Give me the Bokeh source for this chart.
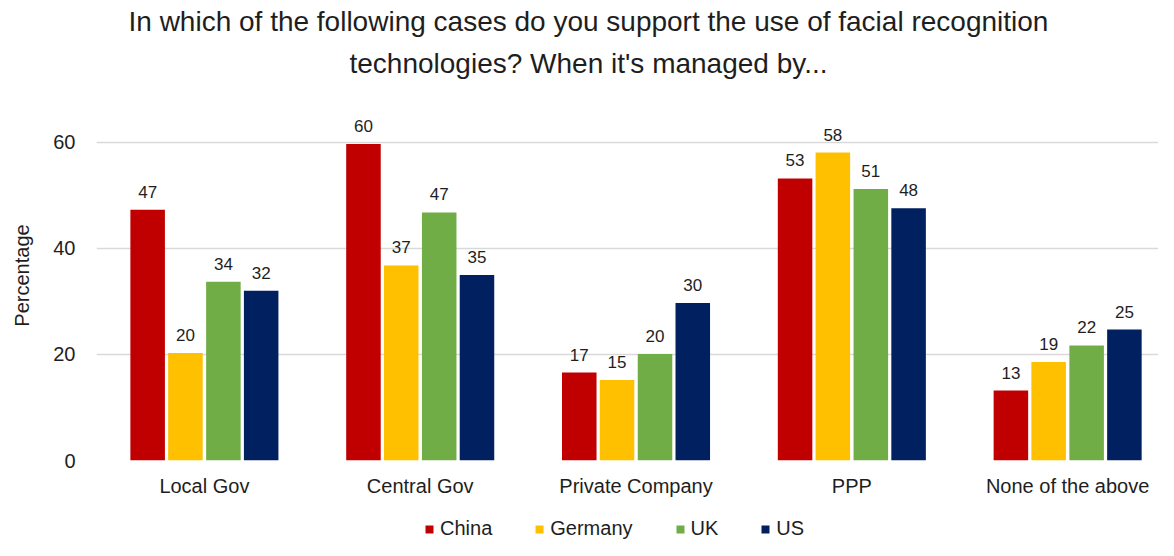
from bokeh.plotting import figure
from bokeh.models import (ColumnDataSource, Range1d, LabelSet, Legend,
                          LegendItem, Title, FixedTicker)
from bokeh.layouts import column
from bokeh.core.properties import value
from bokeh.embed import file_html
from bokeh.resources import INLINE

categories = ["Local Gov", "Central Gov", "Private Company", "PPP", "None of the above"]
series = ["China", "Germany", "UK", "US"]
china = [47.3, 59.7, 16.6, 53.2, 13.2]
germany = [20.3, 36.8, 15.2, 58.1, 18.6]
uk = [33.7, 46.8, 20.1, 51.2, 21.7]
us = [32.0, 35.0, 29.7, 47.6, 24.7]
colors = ["#C00000", "#FFC000", "#70AD47", "#002060"]
y_ticks = [0, 20, 40, 60]
title_lines = ["In which of the following cases do you support the use of facial recognition",
               "technologies? When it's managed by..."]

FONT = "Liberation Sans"
TXT = "#1e1e1e"

values = {"China": china, "Germany": germany, "UK": uk, "US": us}
offsets = [-0.263, -0.088, 0.088, 0.263]
centers = [i + 0.5 for i in range(len(categories))]

data = {}
for s, off in zip(series, offsets):
    data[s] = values[s]
    data[s + "_x"] = [c + off for c in centers]
    data[s + "_lbl"] = [str(int(round(v))) for v in values[s]]
source = ColumnDataSource(data)

p = figure(x_range=Range1d(0, 4.921), y_range=Range1d(0, 69.8),
           width=1158, height=500, output_backend="svg", toolbar_location=None,
           min_border_left=96, min_border_right=0, min_border_top=90, min_border_bottom=40)

p.add_layout(Title(text=title_lines[1], align="left", vertical_align="middle",
                   text_font=FONT, text_font_size="28px",
                   text_font_style="normal", text_color=TXT, offset=253, standoff=21), "above")
p.add_layout(Title(text=title_lines[0], align="left", text_font=FONT, text_font_size="28px",
                   text_font_style="normal", text_color=TXT, offset=32, standoff=0), "above")

for s, c in zip(series, colors):
    p.vbar(x=s + "_x", top=s, width=0.16, source=source, color=c, line_color=None)
    lbl = LabelSet(x=s + "_x", y=s, text=s + "_lbl", source=source,
                   text_align="center", text_baseline="bottom", y_offset=12,
                   text_font=value(FONT), text_font_size=value("17px"), text_color=TXT)
    p.add_layout(lbl)

p.outline_line_color = None
p.xgrid.grid_line_color = None
p.ygrid.grid_line_color = "#d9d9d9"
p.ygrid.grid_line_width = 1.5
p.yaxis.ticker = FixedTicker(ticks=y_ticks)
p.xaxis.ticker = FixedTicker(ticks=centers)
p.xaxis.major_label_overrides = {c: n for c, n in zip(centers, categories)}
p.yaxis.axis_line_color = None
p.xaxis.axis_line_color = None
p.yaxis.major_tick_line_color = None
p.xaxis.major_tick_line_color = None
p.yaxis.minor_tick_line_color = None
p.xaxis.minor_tick_line_color = None
p.yaxis.axis_label = "Percentage"
p.yaxis.axis_label_text_font = FONT
p.yaxis.axis_label_text_font_size = "20px"
p.yaxis.axis_label_text_font_style = "normal"
p.yaxis.axis_label_text_color = TXT
p.yaxis.axis_label_standoff = 17
p.yaxis.major_label_text_font = FONT
p.yaxis.major_label_text_font_size = "20px"
p.yaxis.major_label_text_color = TXT
p.yaxis.major_label_standoff = 15
p.xaxis.major_label_text_font = FONT
p.xaxis.major_label_text_font_size = "20px"
p.xaxis.major_label_text_color = TXT
p.xaxis.major_label_standoff = 8

# legend strip below the chart (its bars lie outside its y range, only the legend shows)
pl = figure(x_range=Range1d(0, 1), y_range=Range1d(100, 101), width=1158, height=40,
            output_backend="svg", toolbar_location=None, min_border=0)
pl.axis.visible = False
pl.grid.visible = False
pl.outline_line_color = None
items = []
for s, c in zip(series, colors):
    r = pl.vbar(x=s + "_x", top=s, width=0.16, source=source, color=c, line_color=None)
    items.append(LegendItem(label=s, renderers=[r]))
legend = Legend(items=items, orientation="horizontal", location=(328, 0),
                glyph_width=10, glyph_height=10, label_standoff=6, spacing=42,
                label_text_font=FONT, label_text_font_size="20px",
                label_text_color=TXT, border_line_color=None, background_fill_alpha=0,
                padding=0, margin=0)
pl.add_layout(legend, "center")

layout = column(p, pl, spacing=0)
open("out.html", "w").write(file_html(layout, INLINE))
